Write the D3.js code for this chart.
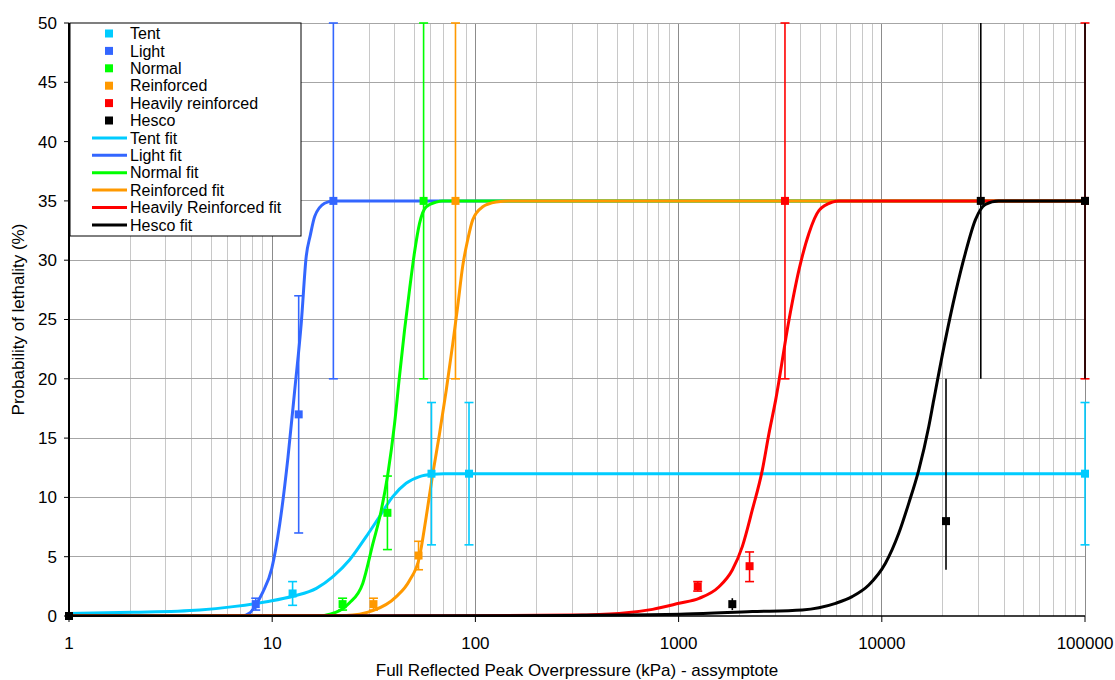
<!DOCTYPE html>
<html>
<head>
<meta charset="utf-8">
<script src="https://cdn.jsdelivr.net/npm/d3@7"></script>
<style>
  html, body { margin: 0; padding: 0; background: #fff; }
  svg { display: block; font-family: "Liberation Sans", Arial, sans-serif; }
</style>
</head>
<body>
<svg id="chart" width="1115" height="680"></svg>
<script>
// ---------------- DATA ----------------
const xTickValues = [1, 10, 100, 1000, 10000, 100000];
const xTickLabels = ["1", "10", "100", "1000", "10000", "100000"];
const yTickValues = [0, 5, 10, 15, 20, 25, 30, 35, 40, 45, 50];

const seriesNames = ["Tent", "Light", "Normal", "Reinforced", "Heavily reinforced", "Hesco"];
const fitNames = ["Tent fit", "Light fit", "Normal fit", "Reinforced fit", "Heavily Reinforced fit", "Hesco fit"];

// observed points (x, y, lower error, upper error)
const tentX = [1, 12.6, 60.8, 93, 100000];
const tentY = [0, 1.9, 12, 12, 12];
const tentLo = [0, 0.9, 6, 6, 6];
const tentHi = [0, 2.9, 18, 18, 18];

const lightX = [1, 8.3, 13.5, 20];
const lightY = [0, 1, 17, 35];
const lightLo = [0, 0.5, 7, 20];
const lightHi = [0, 1.5, 27, 50];

const normalX = [1, 22.2, 36.9, 55.6];
const normalY = [0, 1, 8.7, 35];
const normalLo = [0, 0.5, 5.6, 20];
const normalHi = [0, 1.5, 11.8, 50];

const reinforcedX = [1, 31.5, 52.5, 79.8];
const reinforcedY = [0, 1, 5.1, 35];
const reinforcedLo = [0, 0.5, 3.9, 20];
const reinforcedHi = [0, 1.5, 6.3, 50];

const heavyX = [1, 1242, 2235, 3338, 100000];
const heavyY = [0, 2.5, 4.2, 35, 35];
const heavyLo = [0, 2.1, 2.9, 20, 20];
const heavyHi = [0, 2.9, 5.4, 50, 50];

const hescoX = [1, 1838, 20700, 30700, 100000];
const hescoY = [0, 1, 8, 35, 35];
const hescoLo = [0, 0.5, 3.9, 20, 20];
const hescoHi = [0, 1.5, 20, 50, 50];

// fitted curves
const tentFitX = [1, 2.07, 4.4, 6.42, 9.37, 12.8, 16.5, 19.9, 24.0, 29.0, 33.7, 39.2, 45.6, 53.1, 61.7, 70, 100000];
const tentFitY = [0.22, 0.31, 0.51, 0.79, 1.21, 1.69, 2.33, 3.32, 4.72, 6.69, 8.37, 10.06, 11.19, 11.75, 11.95, 12, 12];

const lightFitX = [1, 7.1, 7.75, 8.27, 8.98, 9.95, 10.9, 11.96, 12.9, 13.9, 14.7, 15.4, 16.2, 18.1, 20, 100000];
const lightFitY = [0, 0, 0.25, 0.9, 2.0, 4.0, 7.8, 13.4, 19.0, 24.7, 30.3, 32.1, 33.7, 34.8, 35, 35];

const normalFitX = [1, 17.1, 19.2, 23.9, 27.9, 31.3, 34.4, 37.1, 40.0, 42.3, 44.8, 47.4, 50.1, 53.1, 57.2, 64.1, 68.8, 100000];
const normalFitY = [0, 0, 0.15, 1.07, 2.75, 6.1, 8.9, 12.0, 16.2, 20.2, 24.1, 27.5, 30.6, 33.1, 34.5, 34.9, 35, 35];

const reinforcedFitX = [1, 23.1, 31.3, 40.8, 47.4, 53.1, 57.2, 61.7, 66.5, 71.8, 77.3, 81.8, 86.6, 91.6, 97.0, 108.6, 126.4, 146.9, 100000];
const reinforcedFitY = [0, 0.05, 0.45, 1.63, 3.0, 5.0, 8.3, 12.0, 15.3, 19.0, 22.9, 26.1, 29.5, 31.7, 33.4, 34.5, 34.9, 35, 35];

const heavyFitX = [1, 100, 300, 510, 744, 1005, 1261, 1581, 1838, 2058, 2305, 2582, 2785, 3003, 3493, 3914, 4385, 4911, 5706, 6152, 100000];
const heavyFitY = [0, 0.02, 0.08, 0.22, 0.56, 1.07, 1.49, 2.47, 3.88, 5.85, 8.94, 12.3, 15.4, 18.2, 24.96, 29.2, 32.3, 34.2, 34.9, 35, 35];

const hescoFitX = [1, 100, 300, 510, 1085, 2305, 4059, 5923, 7146, 8630, 10420, 12120, 13570, 15200, 17020, 18010, 20560, 23020, 25780, 28870, 32330, 37590, 100000];
const hescoFitY = [0, 0.02, 0.05, 0.08, 0.17, 0.37, 0.51, 1.07, 1.63, 2.61, 4.44, 6.97, 9.5, 12.3, 15.96, 18.2, 23.3, 27.2, 30.6, 33.4, 34.7, 35, 35];

// ---------------- STYLE ----------------
const colors = ["#00CCFF", "#3366FF", "#00FF00", "#FF9900", "#FF0000", "#000000"];
const capWidths = [9, 9, 9, 9, 9, 0];

const seriesData = [
  [tentX, tentY, tentLo, tentHi],
  [lightX, lightY, lightLo, lightHi],
  [normalX, normalY, normalLo, normalHi],
  [reinforcedX, reinforcedY, reinforcedLo, reinforcedHi],
  [heavyX, heavyY, heavyLo, heavyHi],
  [hescoX, hescoY, hescoLo, hescoHi]
].map(([xs, ys, lo, hi]) => xs.map((x, i) => ({ x, y: ys[i], lo: lo[i], hi: hi[i] })));

const fitData = [
  [tentFitX, tentFitY], [lightFitX, lightFitY], [normalFitX, normalFitY],
  [reinforcedFitX, reinforcedFitY], [heavyFitX, heavyFitY], [hescoFitX, hescoFitY]
].map(([xs, ys]) => xs.map((x, i) => ({ x, y: ys[i] })));

// ---------------- CHART ----------------
const svg = d3.select("#chart");
const L = 69, R = 1085, T = 23, B = 616;

const x = d3.scaleLog().domain([1, 100000]).range([L, R]);
const y = d3.scaleLinear().domain([0, 50]).range([B, T]);

svg.append("defs").append("clipPath").attr("id", "plotclip")
  .append("rect").attr("x", L).attr("y", T - 1).attr("width", R - L + 1).attr("height", B - T + 2);

// grid
const grid = svg.append("g");
const minorX = [];
for (let d = 1; d < 100000; d *= 10) for (let m = 2; m <= 9; m++) minorX.push(d * m);
grid.selectAll("line.minor").data(minorX).join("line")
  .attr("x1", d => x(d)).attr("x2", d => x(d)).attr("y1", T).attr("y2", B)
  .attr("stroke", "#c8c8c8").attr("stroke-width", 1).attr("shape-rendering", "crispEdges");
grid.selectAll("line.major").data(xTickValues.slice(1)).join("line")
  .attr("x1", d => x(d)).attr("x2", d => x(d)).attr("y1", T).attr("y2", B)
  .attr("stroke", "#8c8c8c").attr("stroke-width", 1).attr("shape-rendering", "crispEdges");
grid.selectAll("line.h").data(yTickValues.slice(1)).join("line")
  .attr("x1", L).attr("x2", R).attr("y1", d => y(d)).attr("y2", d => y(d))
  .attr("stroke", "#a6a6a6").attr("stroke-width", 1).attr("shape-rendering", "crispEdges");

// fit lines
const line = d3.line().x(d => x(d.x)).y(d => y(d.y)).curve(d3.curveMonotoneX);
const fits = svg.append("g").attr("clip-path", "url(#plotclip)");
fitData.forEach((pts, i) => {
  fits.append("path").datum(pts).attr("d", line)
    .attr("fill", "none").attr("stroke", colors[i]).attr("stroke-width", 3)
    .attr("stroke-linejoin", "round");
});

// error bars & markers
const marks = svg.append("g");
seriesData.forEach((pts, i) => {
  const g = marks.append("g");
  const eb = pts.filter(d => d.hi > d.lo);
  g.selectAll("line.v").data(eb).join("line")
    .attr("x1", d => x(d.x)).attr("x2", d => x(d.x))
    .attr("y1", d => y(d.lo)).attr("y2", d => y(d.hi))
    .attr("stroke", colors[i]).attr("stroke-width", 1.6);
  if (capWidths[i] > 0) {
    ["lo", "hi"].forEach(k => {
      g.selectAll("line.c" + k).data(eb).join("line")
        .attr("x1", d => x(d.x) - capWidths[i] / 2).attr("x2", d => x(d.x) + capWidths[i] / 2)
        .attr("y1", d => y(d[k])).attr("y2", d => y(d[k]))
        .attr("stroke", colors[i]).attr("stroke-width", 1.6);
    });
  }
  g.selectAll("rect").data(pts).join("rect")
    .attr("x", d => x(d.x) - 4).attr("y", d => y(d.y) - 4)
    .attr("width", 8).attr("height", 8).attr("fill", colors[i]);
});

// axes
const axisG = svg.append("g");
axisG.append("line").attr("x1", L).attr("x2", L).attr("y1", T).attr("y2", B)
  .attr("stroke", "#000").attr("stroke-width", 2);
axisG.append("line").attr("x1", L).attr("x2", R).attr("y1", B).attr("y2", B)
  .attr("stroke", "#000").attr("stroke-width", 1.5);
axisG.selectAll("line.yt").data(yTickValues).join("line")
  .attr("x1", L - 5).attr("x2", L).attr("y1", d => y(d)).attr("y2", d => y(d))
  .attr("stroke", "#000").attr("stroke-width", 1);
axisG.selectAll("text.yl").data(yTickValues).join("text")
  .attr("x", L - 12).attr("y", d => y(d)).attr("dy", "0.35em")
  .attr("text-anchor", "end").attr("font-size", 17).attr("fill", "#000").text(d => d);
axisG.selectAll("line.xt").data(xTickValues).join("line")
  .attr("x1", d => x(d)).attr("x2", d => x(d)).attr("y1", B).attr("y2", B + 6)
  .attr("stroke", "#000").attr("stroke-width", 1);
axisG.selectAll("text.xl").data(xTickValues).join("text")
  .attr("x", d => x(d)).attr("y", 649)
  .attr("text-anchor", "middle").attr("font-size", 17).attr("fill", "#000")
  .text((d, i) => xTickLabels[i]);

svg.append("text").attr("x", (L + R) / 2).attr("y", 676).attr("text-anchor", "middle")
  .attr("font-size", 17).attr("fill", "#000").text("Full Reflected Peak Overpressure (kPa) - assymptote");
svg.append("text").attr("transform", `translate(24,${(T + B) / 2}) rotate(-90)`)
  .attr("text-anchor", "middle").attr("font-size", 17).attr("fill", "#000").text("Probability of lethality (%)");

// legend
const lg = svg.append("g");
lg.append("rect").attr("x", 70).attr("y", 23).attr("width", 231).attr("height", 213)
  .attr("fill", "#fff").attr("stroke", "#000").attr("stroke-width", 1);
const rowY = i => 33.5 + i * 17.4;
seriesNames.forEach((n, i) => {
  lg.append("rect").attr("x", 105).attr("y", rowY(i) - 4).attr("width", 8).attr("height", 8).attr("fill", colors[i]);
  lg.append("text").attr("x", 130).attr("y", rowY(i)).attr("dy", "0.35em")
    .attr("font-size", 16).attr("fill", "#000").text(n);
});
fitNames.forEach((n, i) => {
  const r = rowY(i + 6);
  lg.append("line").attr("x1", 92).attr("x2", 127).attr("y1", r).attr("y2", r)
    .attr("stroke", colors[i]).attr("stroke-width", 3);
  lg.append("text").attr("x", 130).attr("y", r).attr("dy", "0.35em")
    .attr("font-size", 16).attr("fill", "#000").text(n);
});
</script>
</body>
</html>
